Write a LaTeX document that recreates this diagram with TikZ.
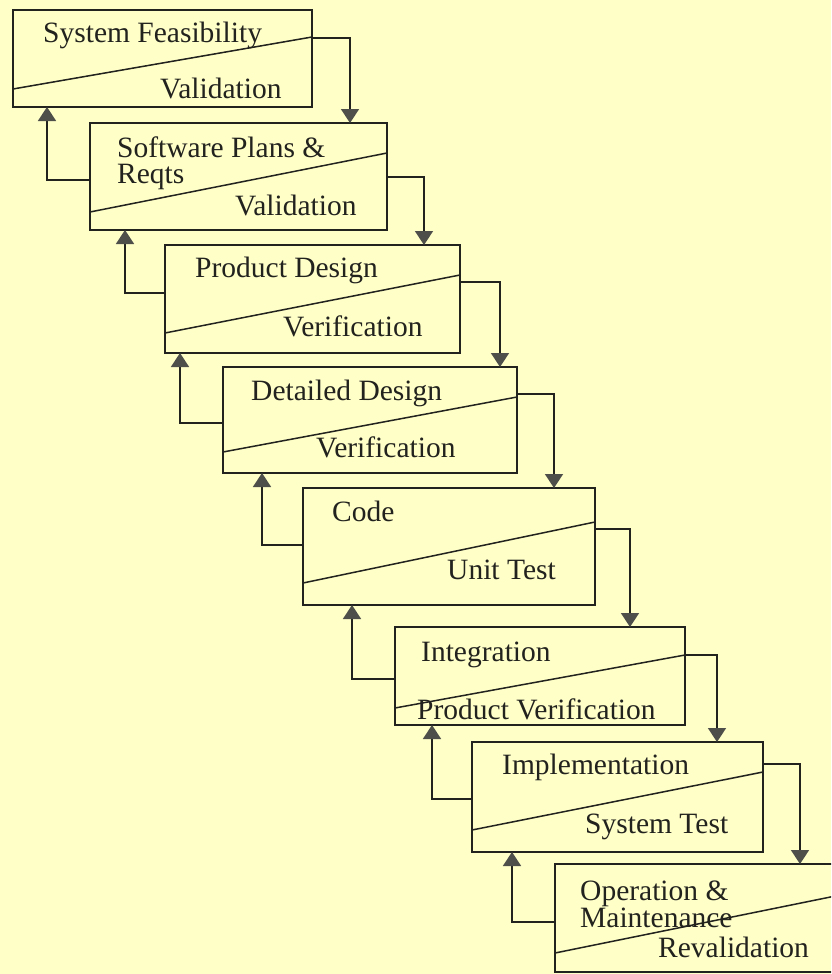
\documentclass[tikz,border=0pt]{standalone}
\usepackage{fontspec}
\setmainfont{Liberation Serif}
\usetikzlibrary{arrows.meta}
\definecolor{paper}{RGB}{255,255,200}
\definecolor{ink}{RGB}{34,34,30}
\definecolor{tipgray}{RGB}{78,78,74}
\tikzset{
  stagebox/.style={draw=ink, line width=1.7pt, rectangle, inner sep=0pt, outer sep=0pt, anchor=north west},
  split/.style={draw=ink, line width=1.5pt},
  flow/.style={draw=ink, line width=1.6pt, -{Triangle[width=18pt,length=14pt,color=tipgray]}},
  label/.style={anchor=base west, inner sep=0pt, text=ink, font=\fontsize{29.5}{31}\selectfont},
}
\begin{document}
\begin{tikzpicture}[x=1pt,y=-1pt]
\fill[paper] (0,0) rectangle (831,974);
\useasboundingbox (0,0) rectangle (831,974);
\clip (0,0) rectangle (831,974);

% stage boxes
\node[stagebox, minimum width=299pt, minimum height=97pt]  (b1) at (13,10)  {};
\node[stagebox, minimum width=297pt, minimum height=107pt] (b2) at (90,123) {};
\node[stagebox, minimum width=295pt, minimum height=108pt] (b3) at (165,245) {};
\node[stagebox, minimum width=294pt, minimum height=106pt] (b4) at (223,367) {};
\node[stagebox, minimum width=292pt, minimum height=117pt] (b5) at (303,488) {};
\node[stagebox, minimum width=290pt, minimum height=98pt]  (b6) at (395,627) {};
\node[stagebox, minimum width=291pt, minimum height=110pt] (b7) at (472,742) {};
\node[stagebox, minimum width=305pt, minimum height=108pt] (b8) at (555,864) {};

% sloping split line in every box
\draw[split] ([yshift=-79pt]b1.north west) -- ([yshift=-27pt]b1.north east);
\draw[split] ([yshift=-89pt]b2.north west) -- ([yshift=-30pt]b2.north east);
\draw[split] ([yshift=-88pt]b3.north west) -- ([yshift=-30pt]b3.north east);
\draw[split] ([yshift=-85pt]b4.north west) -- ([yshift=-30pt]b4.north east);
\draw[split] ([yshift=-95pt]b5.north west) -- ([yshift=-34pt]b5.north east);
\draw[split] ([yshift=-81pt]b6.north west) -- ([yshift=-28pt]b6.north east);
\draw[split] ([yshift=-88pt]b7.north west) -- ([yshift=-30pt]b7.north east);
\draw[split] ([yshift=-89pt]b8.north west) -- ([yshift=-27pt]b8.north east);

% texts
\node[label] (t1a) at (43,43)   {System Feasibility};
\node[label] (t1b) at (160,99)  {Validation};
\node[label] (t2a) at (117,157) {Software Plans \&};
\node[label] (t2b) at (117,183) {Reqts};
\node[label] (t2c) at (235,215) {Validation};
\node[label] (t3a) at (195,277) {Product Design};
\node[label] (t3b) at (283,336) {Verification};
\node[label] (t4a) at (251,400) {Detailed Design};
\node[label] (t4b) at (316,457) {Verification};
\node[label] (t5a) at (332,521) {Code};
\node[label] (t5b) at (447,579) {Unit Test};
\node[label] (t6a) at (421,661) {Integration};
\node[label] (t6b) at (417,719) {Product Verification};
\node[label] (t7a) at (502,774) {Implementation};
\node[label] (t7b) at (585,833) {System Test};
\node[label] (t8a) at (580,900) {Operation \&};
\node[label] (t8b) at (580,927) {Maintenance};
\node[label] (t8c) at (658,957) {Revalidation};

% forward flow down the cascade
\draw[flow] ([yshift=-28pt]b1.north east) -| ([xshift=260pt]b2.north west);
\draw[flow] ([yshift=-54pt]b2.north east) -| ([xshift=259pt]b3.north west);
\draw[flow] ([yshift=-37pt]b3.north east) -| ([xshift=277pt]b4.north west);
\draw[flow] ([yshift=-27pt]b4.north east) -| ([xshift=251pt]b5.north west);
\draw[flow] ([yshift=-41pt]b5.north east) -| ([xshift=235pt]b6.north west);
\draw[flow] ([yshift=-28pt]b6.north east) -| ([xshift=245pt]b7.north west);
\draw[flow] ([yshift=-22pt]b7.north east) -| ([xshift=245pt]b8.north west);

% feedback to the previous stage
\draw[flow] ([yshift=-57pt]b2.north west) -| ([xshift=34pt]b1.south west);
\draw[flow] ([yshift=-48pt]b3.north west) -| ([xshift=35pt]b2.south west);
\draw[flow] ([yshift=-56pt]b4.north west) -| ([xshift=15pt]b3.south west);
\draw[flow] ([yshift=-57pt]b5.north west) -| ([xshift=39pt]b4.south west);
\draw[flow] ([yshift=-52pt]b6.north west) -| ([xshift=49pt]b5.south west);
\draw[flow] ([yshift=-57pt]b7.north west) -| ([xshift=37pt]b6.south west);
\draw[flow] ([yshift=-58pt]b8.north west) -| ([xshift=40pt]b7.south west);
\end{tikzpicture}
\end{document}
